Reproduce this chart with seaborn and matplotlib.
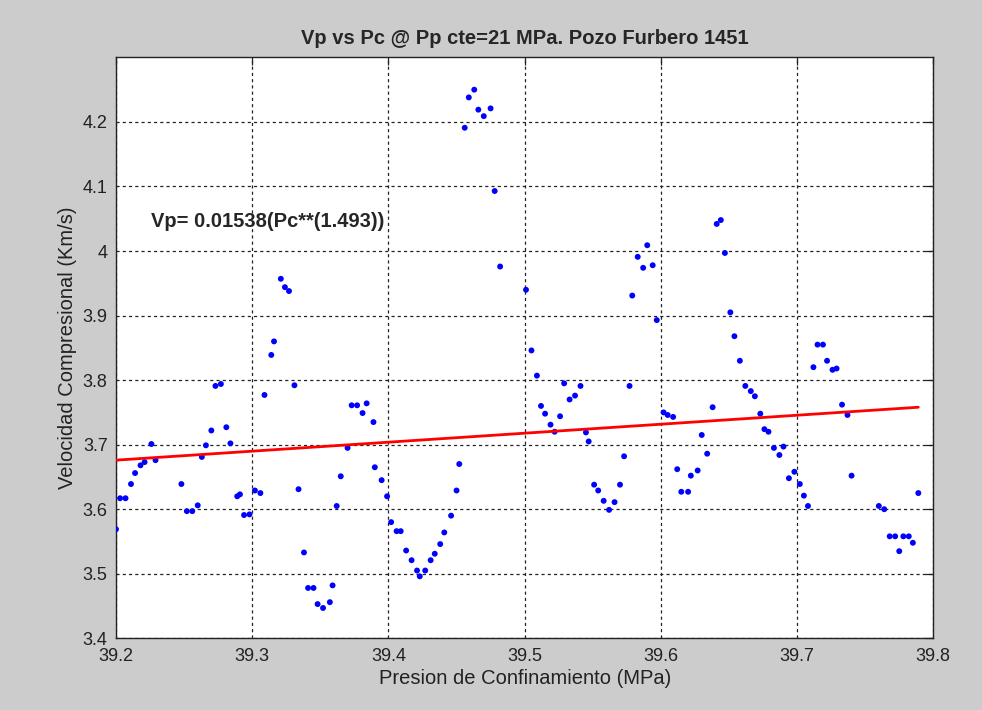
import matplotlib
matplotlib.use("Agg")
import matplotlib.pyplot as plt
import seaborn as sns
import pandas as pd
from matplotlib.ticker import FormatStrFormatter

# confining pressure (MPa) and compressional velocity (km/s)
pc = [39.200, 39.203, 39.207, 39.211, 39.214, 39.218, 39.221, 39.226, 39.229,
      39.248, 39.252, 39.256, 39.260, 39.263, 39.266, 39.270, 39.273, 39.277,
      39.281, 39.284, 39.289, 39.291, 39.294, 39.298, 39.302, 39.306, 39.309,
      39.314, 39.316, 39.321, 39.324, 39.327, 39.331, 39.334, 39.338, 39.341,
      39.345, 39.348, 39.352, 39.357, 39.359, 39.362, 39.365, 39.370, 39.373,
      39.377, 39.381, 39.384, 39.389, 39.390, 39.395, 39.399, 39.402, 39.406,
      39.409, 39.413, 39.417, 39.421, 39.423, 39.427, 39.431, 39.434, 39.438,
      39.441, 39.446, 39.450, 39.452, 39.456, 39.459, 39.463, 39.466, 39.470,
      39.475, 39.478, 39.482, 39.501, 39.505, 39.509, 39.512, 39.515, 39.519,
      39.522, 39.526, 39.529, 39.533, 39.537, 39.541, 39.545, 39.547, 39.551,
      39.554, 39.558, 39.562, 39.566, 39.570, 39.573, 39.577, 39.579, 39.583,
      39.587, 39.590, 39.594, 39.597, 39.602, 39.605, 39.609, 39.612, 39.615,
      39.620, 39.622, 39.627, 39.630, 39.634, 39.638, 39.641, 39.644, 39.647,
      39.651, 39.654, 39.658, 39.662, 39.666, 39.669, 39.673, 39.676, 39.679,
      39.683, 39.687, 39.690, 39.694, 39.698, 39.702, 39.705, 39.708, 39.712,
      39.715, 39.719, 39.722, 39.726, 39.729, 39.733, 39.737, 39.740, 39.760,
      39.764, 39.768, 39.772, 39.775, 39.778, 39.782, 39.785, 39.789]
vp = [3.569, 3.617, 3.617, 3.639, 3.656, 3.668, 3.673, 3.701, 3.676,
      3.639, 3.597, 3.597, 3.606, 3.681, 3.699, 3.722, 3.791, 3.794,
      3.727, 3.702, 3.620, 3.623, 3.591, 3.592, 3.629, 3.625, 3.777,
      3.839, 3.860, 3.957, 3.944, 3.938, 3.792, 3.631, 3.533, 3.478,
      3.478, 3.453, 3.447, 3.456, 3.482, 3.605, 3.651, 3.695, 3.761,
      3.761, 3.749, 3.764, 3.735, 3.665, 3.645, 3.620, 3.580, 3.566,
      3.566, 3.536, 3.521, 3.505, 3.496, 3.505, 3.521, 3.531, 3.546,
      3.564, 3.590, 3.629, 3.670, 4.191, 4.238, 4.250, 4.219, 4.209,
      4.221, 4.093, 3.976, 3.940, 3.846, 3.807, 3.760, 3.748, 3.731,
      3.720, 3.744, 3.795, 3.770, 3.776, 3.791, 3.719, 3.705, 3.638,
      3.629, 3.613, 3.599, 3.611, 3.638, 3.682, 3.791, 3.931, 3.991,
      3.974, 4.009, 3.978, 3.893, 3.750, 3.746, 3.743, 3.662, 3.627,
      3.627, 3.652, 3.660, 3.715, 3.686, 3.758, 4.042, 4.048, 3.997,
      3.905, 3.868, 3.830, 3.791, 3.783, 3.775, 3.748, 3.724, 3.720,
      3.695, 3.684, 3.697, 3.648, 3.658, 3.639, 3.621, 3.605, 3.820,
      3.855, 3.855, 3.830, 3.816, 3.818, 3.762, 3.746, 3.652, 3.605,
      3.600, 3.558, 3.558, 3.535, 3.558, 3.558, 3.548, 3.625]

# fitted curve end points
fit_pc = [39.200, 39.789]
fit_vp = [3.676, 3.758]

x_ticks = [39.2, 39.3, 39.4, 39.5, 39.6, 39.7, 39.8]
y_ticks = [3.4, 3.5, 3.6, 3.7, 3.8, 3.9, 4.0, 4.1, 4.2]

title = "Vp vs Pc @ Pp cte=21 MPa. Pozo Furbero 1451"
fit_label = "Vp= 0.01538(Pc**(1.493))"

df = pd.DataFrame({"pc": pc, "vp": vp})
fit_df = pd.DataFrame({"pc": fit_pc, "vp": fit_vp})

sns.set_style("white")
plt.rcParams["font.family"] = ["Liberation Sans", "DejaVu Sans"]

fig = plt.figure(figsize=(9.82, 7.10), dpi=100, facecolor="#cccccc")
ax = fig.add_axes([116 / 982, 1 - 638.3 / 710, (933.3 - 116) / 982, (638.3 - 57.4) / 710])
ax.set_facecolor("white")

sns.scatterplot(data=df, x="pc", y="vp", ax=ax, color="#0000ff", s=18,
                edgecolor="none", linewidth=0, zorder=3)
sns.lineplot(data=fit_df, x="pc", y="vp", ax=ax, color="#ff0000", linewidth=2, zorder=4)

ax.set_xlim(39.2, 39.8)
ax.set_ylim(3.4, 4.3)
ax.set_xticks(x_ticks)
ax.set_yticks(y_ticks)
ax.xaxis.set_major_formatter(FormatStrFormatter("%g"))
ax.yaxis.set_major_formatter(FormatStrFormatter("%g"))

ax.grid(True, color="#222222", linestyle=(0, (2.5, 2.5)), linewidth=0.9)
ax.tick_params(direction="in", length=6, width=0.9, top=True, right=True,
               labelsize=13, colors="#222222")
ax.tick_params(axis="x", pad=7)
ax.tick_params(axis="y", pad=6)
for s in ax.spines.values():
    s.set_color("#222222")
    s.set_linewidth(1.0)

ax.set_xlabel("Presion de Confinamiento (MPa)", fontsize=14.5, color="#222222", labelpad=3)
ax.set_ylabel("Velocidad Compresional (Km/s)", fontsize=14.5, color="#222222", labelpad=4)
ax.set_title(title, fontsize=14.5, fontweight="bold", pad=10)

ax.text(39.226, 4.045, fit_label, fontsize=14.5, fontweight="bold", va="center", ha="left")

fig.savefig("out.png", dpi=100, facecolor=fig.get_facecolor())
